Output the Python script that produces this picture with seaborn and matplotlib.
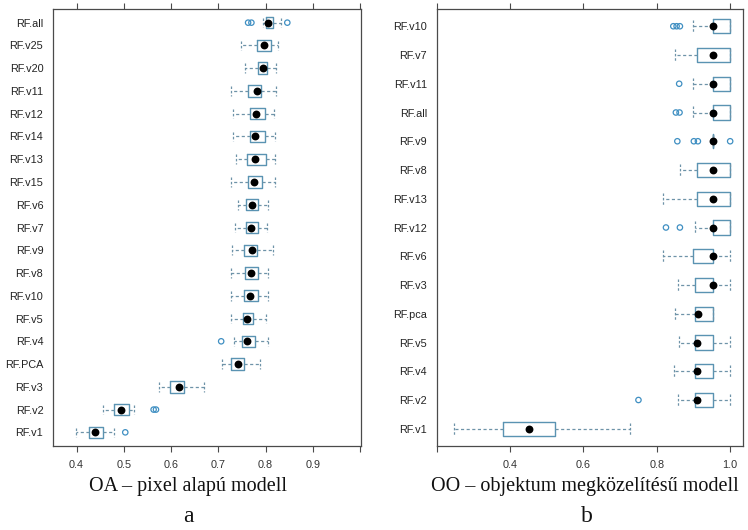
import numpy as np
import pandas as pd
import matplotlib
matplotlib.use("Agg")
import matplotlib.pyplot as plt
import seaborn as sns

sns.set_theme(style="white")
plt.rcParams['font.family'] = ['Liberation Sans', 'DejaVu Sans']

# ---------------- data: panel a (OA - pixel based) ----------------
labels_a = ["RF.all", "RF.v25", "RF.v20", "RF.v11", "RF.v12", "RF.v14", "RF.v13",
            "RF.v15", "RF.v6", "RF.v7", "RF.v9", "RF.v8", "RF.v10", "RF.v5",
            "RF.v4", "RF.PCA", "RF.v3", "RF.v2", "RF.v1"]
whislo_a = [0.795, 0.747, 0.757, 0.726, 0.732, 0.732, 0.738, 0.727, 0.741, 0.735,
            0.728, 0.726, 0.726, 0.726, 0.733, 0.707, 0.574, 0.455, 0.399]
q1_a = [0.801, 0.782, 0.785, 0.762, 0.766, 0.766, 0.761, 0.762, 0.759, 0.759,
        0.755, 0.757, 0.755, 0.753, 0.751, 0.727, 0.598, 0.479, 0.427]
med_a = [0.806, 0.797, 0.794, 0.781, 0.780, 0.778, 0.777, 0.775, 0.772, 0.770,
         0.771, 0.770, 0.768, 0.761, 0.760, 0.742, 0.616, 0.494, 0.439]
q3_a = [0.815, 0.812, 0.802, 0.790, 0.799, 0.799, 0.801, 0.792, 0.785, 0.785,
        0.781, 0.785, 0.783, 0.774, 0.778, 0.754, 0.627, 0.511, 0.456]
whishi_a = [0.832, 0.827, 0.823, 0.823, 0.818, 0.819, 0.819, 0.821, 0.806, 0.802,
            0.816, 0.805, 0.805, 0.801, 0.805, 0.789, 0.669, 0.521, 0.479]
out_lab_a = ["RF.all", "RF.all", "RF.all", "RF.v4", "RF.v2", "RF.v2", "RF.v1"]
out_val_a = [0.763, 0.770, 0.846, 0.706, 0.563, 0.568, 0.503]
xticks_a = [0.4, 0.5, 0.6, 0.7, 0.8, 0.9, 1.0]
xticklabels_a = ["0.4", "0.5", "0.6", "0.7", "0.8", "0.9", ""]

# ---------------- data: panel b (OO - object based) ----------------
labels_b = ["RF.v10", "RF.v7", "RF.v11", "RF.all", "RF.v9", "RF.v8", "RF.v13",
            "RF.v12", "RF.v6", "RF.v3", "RF.pca", "RF.v5", "RF.v4", "RF.v2", "RF.v1"]
whislo_b = [0.899, 0.850, 0.899, 0.899, 0.953, 0.863, 0.818, 0.904, 0.818, 0.857,
            0.850, 0.861, 0.848, 0.857, 0.248]
q1_b = [0.953, 0.909, 0.953, 0.953, 0.953, 0.909, 0.909, 0.953, 0.899, 0.904,
        0.904, 0.904, 0.904, 0.904, 0.380]
med_b = [0.953, 0.953, 0.953, 0.953, 0.953, 0.953, 0.953, 0.953, 0.953, 0.953,
         0.913, 0.909, 0.909, 0.909, 0.451]
q3_b = [1.0, 1.0, 1.0, 1.0, 0.953, 1.0, 1.0, 1.0, 0.953, 0.953,
        0.953, 0.953, 0.953, 0.953, 0.523]
whishi_b = [1.0, 1.0, 1.0, 1.0, 0.953, 1.0, 1.0, 1.0, 1.0, 1.0,
            0.953, 1.0, 1.0, 1.0, 0.727]
out_lab_b = ["RF.v10", "RF.v10", "RF.v10", "RF.v11", "RF.all", "RF.all",
             "RF.v9", "RF.v9", "RF.v9", "RF.v9", "RF.v12", "RF.v12", "RF.v2"]
out_val_b = [0.845, 0.854, 0.863, 0.861, 0.852, 0.862,
             0.856, 0.901, 0.912, 1.0, 0.825, 0.863, 0.750]
xticks_b = [0.2, 0.4, 0.6, 0.8, 1.0]
xticklabels_b = ["", "0.4", "0.6", "0.8", "1.0"]

BOX_C = "#5a93b2"
WHISK_C = "#6e93a8"
OUT_C = "#3f8fc2"
SPINE_C = "#4a4a4a"


def draw_panel(ax, labels, lo, q1, med, q3, hi, out_lab, out_val, xlim, xticks, xticklabels):
    n = len(labels)
    pos = np.arange(1, n + 1)
    stats = [dict(whislo=lo[i], q1=q1[i], med=med[i], q3=q3[i], whishi=hi[i], fliers=[])
             for i in range(n)]
    ax.bxp(stats, positions=pos, widths=0.5, orientation='horizontal',
           showfliers=False, capwidths=0.42,
           boxprops=dict(color=BOX_C, linewidth=1.0),
           whiskerprops=dict(color=WHISK_C, linewidth=0.9, linestyle=(0, (2.5, 2))),
           capprops=dict(color=WHISK_C, linewidth=0.9, linestyle=(0, (2.0, 1.5))),
           medianprops=dict(visible=False))
    df = pd.DataFrame({"label": labels, "median": med, "pos": pos})
    sns.scatterplot(data=df, x="median", y="pos", color="black", s=32,
                    linewidth=0, ax=ax, zorder=5)
    lab_pos = {l: p for l, p in zip(labels, pos)}
    dfo = pd.DataFrame({"val": out_val, "pos": [lab_pos[l] for l in out_lab]})
    sns.scatterplot(data=dfo, x="val", y="pos", color=OUT_C, facecolors="none",
                    edgecolor=OUT_C, s=15, linewidth=0.9, ax=ax, zorder=4)
    ax.set_xlim(*xlim)
    ax.set_ylim(n + 0.6, 0.4)
    ax.set_yticks(pos)
    ax.set_yticklabels(labels, fontsize=7.8, color="#222222")
    ax.set_xticks(xticks)
    ax.set_xticklabels(xticklabels, fontsize=7.8, color="#333333")
    ax.set_xlabel("")
    ax.set_ylabel("")
    ax.tick_params(axis="x", which="both", direction="out", length=4, width=0.8,
                   color=SPINE_C, top=True, bottom=True, labeltop=False, pad=6)
    ax.tick_params(axis="y", length=0, pad=7)
    for s in ax.spines.values():
        s.set_color(SPINE_C)
        s.set_linewidth(0.9)
    ax.grid(False)


fig = plt.figure(figsize=(7.48, 5.30), dpi=100)
axA = fig.add_axes([53 / 748, 1 - 446 / 530, 308 / 748, 437 / 530])
axB = fig.add_axes([436.7 / 748, 1 - 446 / 530, 306.3 / 748, 437 / 530])

draw_panel(axA, labels_a, whislo_a, q1_a, med_a, q3_a, whishi_a, out_lab_a, out_val_a,
           (0.350, 1.002), xticks_a, xticklabels_a)
draw_panel(axB, labels_b, whislo_b, q1_b, med_b, q3_b, whishi_b, out_lab_b, out_val_b,
           (0.201, 1.035), xticks_b, xticklabels_b)

serif = ['Liberation Serif', 'DejaVu Serif']
fig.text(188 / 748, 1 - 487 / 530, "OA – pixel alapú modell", family=serif,
         fontsize=14.5, ha="center", va="center", color="#111111")
fig.text(585 / 748, 1 - 487 / 530, "OO – objektum megközelítésű modell", family=serif,
         fontsize=14.5, ha="center", va="center", color="#111111")
fig.text(188 / 748, 1 - 516 / 530, "a", family=serif, fontsize=17,
         ha="center", va="center", color="#111111")
fig.text(587 / 748, 1 - 516 / 530, "b", family=serif, fontsize=17,
         ha="center", va="center", color="#111111")

fig.savefig("out.png", dpi=100)
